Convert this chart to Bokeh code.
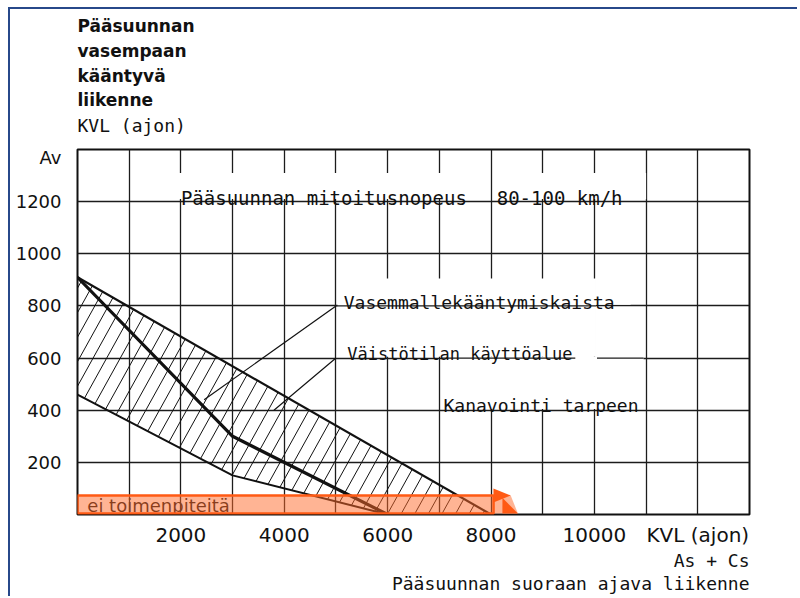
import numpy as np
from bokeh.plotting import figure
from bokeh.models import Range1d, FixedTicker, Label, Title
from bokeh.embed import file_html
from bokeh.resources import INLINE
from bokeh.core.properties import value

FONT = "DejaVu Sans"
MONO = "DejaVu Sans Mono"

# ---------------- data ----------------
x_tick_values = [2000, 4000, 6000, 8000, 10000, 12000]
x_tick_labels = ["2000", "4000", "6000", "8000", "10000", "KVL (ajon)"]
y_tick_values = [200, 400, 600, 800, 1000, 1200, 1370]
y_tick_labels = ["200", "400", "600", "800", "1000", "1200", "Av"]

# upper limit of the turning-lane area
upper_x = [0, 8000]
upper_y = [910, 0]
# lower limit of the area
lower_x = [0, 3000, 6000]
lower_y = [460, 150, 0]
# thick middle line
median_x = [0, 3000, 6000]
median_y = [910, 300, 0]
# leader lines of the labels
leader1_x = [5000, 2450]
leader1_y = [800, 440]
leader2_x = [5000, 3800]
leader2_y = [600, 400]
# "ei toimenpiteitä" highlight bar
bar_x = [0, 8050]
bar_y = [4, 73]

# ---------------- figure ----------------
W, H = 789, 589
p = figure(width=W, height=H, output_backend="svg", toolbar_location=None,
           x_range=Range1d(0, 13000), y_range=Range1d(0, 1400),
           min_border_left=67, min_border_right=50, min_border_top=140,
           min_border_bottom=84)
p.styles = {"margin-left": "8px", "margin-top": "7px",
            "border-top": "2px solid #27488a", "border-left": "2px solid #27488a"}
p.background_fill_color = "white"
p.border_fill_color = "white"
p.outline_line_color = "#111111"
p.outline_line_width = 2

GRID = "#1c1c1c"
p.xgrid.ticker = FixedTicker(ticks=list(range(1000, 13000, 1000)))
p.ygrid.ticker = FixedTicker(ticks=list(range(200, 1400, 200)))
for g in (p.xgrid, p.ygrid):
    g.grid_line_color = GRID
    g.grid_line_width = 1.3

p.xaxis.ticker = FixedTicker(ticks=x_tick_values)
p.xaxis.major_label_overrides = {v: t for v, t in zip(x_tick_values, x_tick_labels)}
p.yaxis.ticker = FixedTicker(ticks=y_tick_values)
p.yaxis.major_label_overrides = {v: t for v, t in zip(y_tick_values, y_tick_labels)}
for ax in (p.xaxis, p.yaxis):
    ax.axis_line_color = None
    ax.major_tick_line_color = None
    ax.minor_tick_line_color = None
    ax.major_label_text_font = FONT
    ax.major_label_text_color = "#111111"
p.xaxis.major_label_text_font_size = "20px"
p.xaxis.major_label_standoff = 2
p.yaxis.major_label_text_font_size = "18px"
p.yaxis.major_label_standoff = 10

# white masks behind the texts (grid is interrupted there)
masks_l = [1950, 8050, 5030, 10030, 7050]
masks_r = [7750, 11000, 10030, 10700, 10950]
masks_b = [1210, 1210, 605, 805, 405]
masks_t = [1310, 1310, 905, 905, 605]
p.quad(left=masks_l, right=masks_r, bottom=masks_b, top=masks_t,
       fill_color="white", line_color=None)
# underline parts of the grid that stay visible
p.segment(x0=[5000, 7050, 10050], y0=[800, 600, 600], x1=[10030, 9630, 10950],
          y1=[800, 600, 600], line_color=GRID, line_width=1.3)

# ---------------- hatch of the area ----------------
poly_x = upper_x + lower_x[::-1]
poly_y = upper_y + lower_y[::-1]
sx, sy = 672 / 13000, 365 / 1400
px = np.array(poly_x) * sx
py = np.array(poly_y) * sy
k = 1 / np.tan(np.radians(61))
f0 = px - py * k
hx, hy = [], []
n = len(px)
for c in np.arange(f0.min() + 6, f0.max(), 13.6):
    pts = []
    for i in range(n):
        ax_, ay_, bx_, by_ = px[i], py[i], px[(i + 1) % n], py[(i + 1) % n]
        fa = ax_ - ay_ * k - c
        fb = bx_ - by_ * k - c
        if fa == fb:
            continue
        if (fa <= 0 <= fb) or (fb <= 0 <= fa):
            t = fa / (fa - fb)
            pts.append((ax_ + t * (bx_ - ax_), ay_ + t * (by_ - ay_)))
    if len(pts) >= 2:
        pts.sort(key=lambda q: q[1])
        (x1, y1), (x2, y2) = pts[0], pts[-1]
        hx.append([x1 / sx, x2 / sx])
        hy.append([y1 / sy, y2 / sy])
p.multi_line(xs=hx, ys=hy, line_color="#111111", line_width=1)

p.line(upper_x, upper_y, line_color="#111111", line_width=2.2)
p.line(lower_x, lower_y, line_color="#111111", line_width=2)
p.line(median_x, median_y, line_color="#111111", line_width=3.2)
p.line(leader1_x, leader1_y, line_color="#111111", line_width=1.2)
p.line(leader2_x, leader2_y, line_color="#111111", line_width=1.2)

# ---------------- highlight bar ----------------
p.text(x=[190], y=[33], text=["ei toimenpiteitä"], text_font=value(FONT),
       text_font_size="18px", text_color="#111111", text_baseline="alphabetic")
p.quad(left=[bar_x[0]], right=[bar_x[1]], bottom=[bar_y[0]], top=[bar_y[1]],
       fill_color="#ff6a2a", fill_alpha=0.5, line_color="#ff5a14", line_width=2.5)
p.patch([bar_x[1], bar_x[1] + 330, bar_x[1] + 470, bar_x[1]],
        [bar_y[1], bar_y[1], bar_y[0], bar_y[0]],
        fill_color="#ff6a2a", fill_alpha=0.5, line_color=None)
p.patch([bar_x[1] - 4, bar_x[1] + 330, bar_x[1] - 4], [100, 73, 46],
        fill_color="#ff5a14", line_color=None)
p.patch([bar_x[1] + 170, bar_x[1] + 470, bar_x[1] + 170], [64, 4, 4],
        fill_color="#ff5a14", line_color=None)

# ---------------- texts in the chart ----------------
def lab(x, y, t, size="18px"):
    p.add_layout(Label(x=x, y=y, text=t, text_font=MONO, text_font_size=size,
                       text_align="left", text_baseline="alphabetic",
                       text_color="#111111"))

lab(2000, 1213, "Pääsuunnan mitoitusnopeus", "19px")
lab(8110, 1213, "80-100 km/h", "19px")
lab(5150, 812, "Vasemmallekääntymiskaista", "18px")
lab(5220, 617, "Väistötilan käyttöalue", "17px")
lab(7080, 417, "Kanavointi tarpeen", "18px")

# ---------------- captions outside the frame ----------------
def ttl(t, place, size, font=FONT, style="normal", standoff=0, align="left",
        valign="bottom"):
    p.add_layout(Title(text=t, align=align, text_font=font, text_font_size=size,
                       text_font_style=style, text_color="#111111",
                       standoff=standoff, vertical_align=valign), place)

ttl(" ", "above", "1px", standoff=11)                      # gap above the frame
ttl("KVL (ajon)", "above", "18px", font=MONO, standoff=0)
ttl("liikenne", "above", "17px", style="bold", standoff=5)
ttl("kääntyvä", "above", "17px", style="bold", standoff=0)
ttl("vasempaan", "above", "17px", style="bold", standoff=5)
ttl("Pääsuunnan", "above", "17px", style="bold", standoff=2)

ttl("As + Cs", "below", "18px", font=MONO, standoff=0, align="right", valign="top")
ttl("Pääsuunnan suoraan ajava liikenne", "below", "18px", font=MONO, standoff=0,
    align="right", valign="top")

open("out.html", "w").write(file_html(p, INLINE))
